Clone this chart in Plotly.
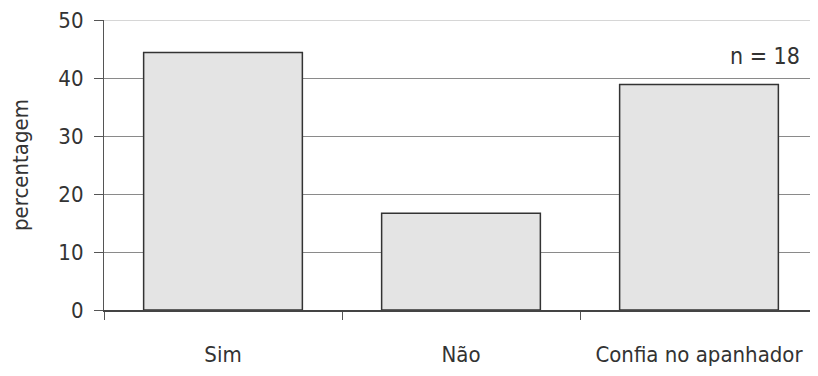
import plotly.graph_objects as go

categories = ["Sim", "Não", "Confia no apanhador"]
values = [44.4, 16.7, 38.9]
y_ticks = [0, 10, 20, 30, 40, 50]
n_label = "n = 18"
y_title = "percentagem"

FONT = "DejaVu Sans Condensed, Liberation Sans Narrow, Arial Narrow, sans-serif"

fig = go.Figure(
    go.Bar(
        x=categories,
        y=values,
        marker=dict(color="#e4e4e4", line=dict(color="#333333", width=1.5)),
        width=0.667,
    )
)

fig.add_annotation(
    x=1, xref="paper", y=43.8, yref="y",
    text=n_label, showarrow=False, xanchor="right", yanchor="middle",
    xshift=-16,
    font=dict(family=FONT, size=23, color="#333333"),
)

# light top border line of the plotting area
fig.add_shape(type="line", xref="paper", x0=0, x1=1, yref="y", y0=y_ticks[-1], y1=y_ticks[-1],
              line=dict(color="#c8c8c8", width=1.5), layer="below")

fig.update_layout(
    width=810, height=368,
    margin=dict(l=96, r=0, t=12, b=66),
    paper_bgcolor="white", plot_bgcolor="white",
    showlegend=False,
    font=dict(family=FONT, size=22, color="#333333"),
)
fig.update_yaxes(
    range=[0, 50], tickvals=y_ticks,
    showgrid=True, gridcolor="#8a8a8a", gridwidth=1,
    showline=True, linecolor="#555555", linewidth=1.2,
    ticks="outside", ticklen=9, tickcolor="#555555",
    ticklabelstandoff=6, ticklabeloverflow="allow",
    zeroline=False, automargin=False,
    title=dict(text=y_title, standoff=24, font=dict(size=22)),
    tickfont=dict(size=22),
)
fig.update_xaxes(
    range=[-0.5, 2.5],
    showline=True, linecolor="#444444", linewidth=1.5,
    ticks="outside", ticklen=8, tickcolor="#555555",
    tickson="boundaries", automargin=False,
    ticklabelstandoff=24,
    tickfont=dict(size=22),
)

fig.write_html("out.html")
